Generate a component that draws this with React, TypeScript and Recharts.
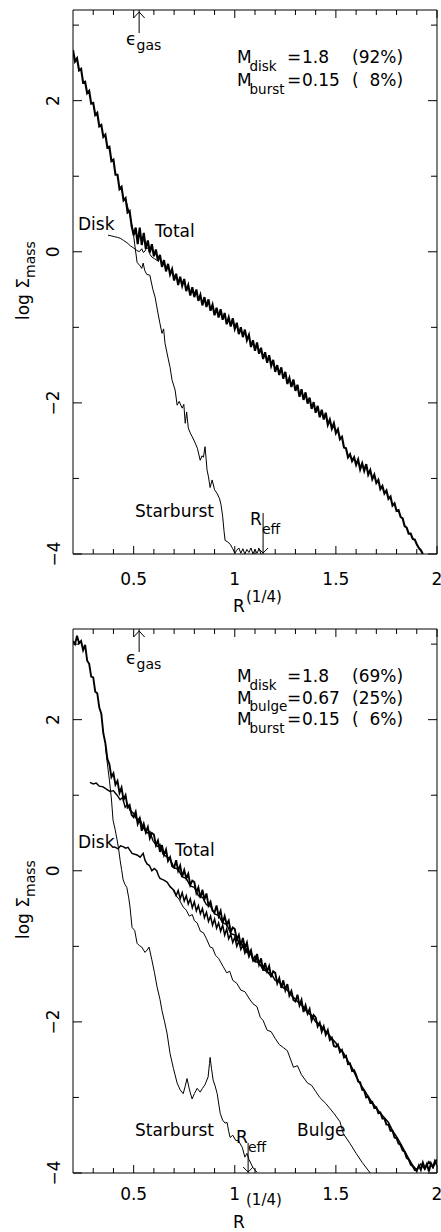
import { Line, LineChart, XAxis, YAxis } from "recharts"

const W = 441
const FONT = "'DejaVu Sans', sans-serif"

const xTicks = [0.3, 0.4, 0.5, 0.6, 0.7, 0.8, 0.9, 1, 1.1, 1.2, 1.3, 1.4, 1.5, 1.6, 1.7, 1.8, 1.9, 2]
const xLabels: Record<string, string> = { "0.5": "0.5", "1": "1", "1.5": "1.5", "2": "2" }
const yTicks = [-4, -3, -2, -1, 0, 1, 2, 3]
const yLabels: Record<string, string> = { "-4": "−4", "-2": "−2", "0": "0", "2": "2" }

// sample grid along R^(1/4)
const steps = (from: number, step: number, n: number) =>
  Array.from({ length: n }, (_, i) => Math.round((from + i * step) * 1000) / 1000)

// ---------- top panel ----------
const totalTopY = [
  2.67, 2.52, 2.56, 2.40, 2.42, 2.24, 2.25, 2.10, 2.13, 1.96,
  1.97, 1.81, 1.84, 1.66, 1.68, 1.52, 1.55, 1.38, 1.39, 1.20,
  1.22, 1.02, 1.02, 0.83, 0.86, 0.68, 0.71, 0.52, 0.54, 0.34,
  0.22, 0.32, 0.10, 0.32, 0.09, 0.25, 0.04, 0.15, -0.01, 0.10,
  -0.06, 0.03, -0.12, -0.04, -0.20, -0.11, -0.26, -0.16, -0.30, -0.23,
  -0.38, -0.29, -0.44, -0.33, -0.45, -0.36, -0.52, -0.44, -0.58, -0.47,
  -0.60, -0.50, -0.65, -0.57, -0.71, -0.60, -0.73, -0.63, -0.78, -0.70,
  -0.84, -0.74, -0.87, -0.76, -0.90, -0.81, -0.96, -0.87, -0.99, -0.88,
  -1.02, -0.94, -1.09, -1.00, -1.13, -1.03, -1.17, -1.10, -1.26, -1.17,
  -1.31, -1.20, -1.35, -1.27, -1.42, -1.33, -1.47, -1.37, -1.51, -1.43,
  -1.59, -1.50, -1.63, -1.53, -1.68, -1.59, -1.75, -1.67, -1.79, -1.69,
  -1.84, -1.76, -1.92, -1.82, -1.96, -1.86, -2.01, -1.93, -2.08, -1.99,
  -2.13, -2.04, -2.19, -2.09, -2.22, -2.13, -2.29, -2.22, -2.34, -2.27,
  -2.40, -2.35, -2.48, -2.45, -2.59, -2.60, -2.72, -2.68, -2.77, -2.72,
  -2.82, -2.75, -2.88, -2.80, -2.90, -2.81, -2.95, -2.89, -3.01, -2.95,
  -3.06, -3.02, -3.14, -3.10, -3.20, -3.16, -3.27, -3.24, -3.36, -3.33,
  -3.43, -3.42, -3.51, -3.53, -3.63, -3.65, -3.73, -3.73, -3.80, -3.81,
  -3.87, -3.92, -3.95, -4.0,
]
const totalTopR = steps(0.2, 0.01, totalTopY.length)

const diskTopR = [0.373, 0.39, 0.405, 0.42, 0.433, 0.45, 0.467, 0.483, 0.5, 0.515, 0.528, 0.54, 0.548, 0.556, 0.565, 0.573, 0.582, 0.59, 0.602, 0.614, 0.625]
const diskTopY = [0.22, 0.21, 0.2, 0.19, 0.18, 0.15, 0.12, 0.08, 0.05, 0.02, 0.0, 0.04, -0.01, 0.01, 0.06, 0.03, -0.04, -0.07, -0.09, -0.11, -0.13]

const burstTopR = [
  0.46, 0.48, 0.497, 0.505, 0.517, 0.53, 0.54, 0.547, 0.555, 0.565, 0.58, 0.595, 0.606, 0.62, 0.63,
  0.64, 0.648, 0.655, 0.668, 0.68, 0.69, 0.705, 0.715, 0.725, 0.74, 0.748, 0.755, 0.762, 0.77, 0.78,
  0.79, 0.804, 0.815, 0.829, 0.838, 0.845, 0.853, 0.863, 0.87, 0.878, 0.888, 0.9, 0.913, 0.925, 0.932,
  0.94, 0.947, 0.952, 0.965, 0.977, 0.99, 1.0, 1.01, 1.02, 1.03, 1.04, 1.05, 1.06, 1.07, 1.08,
  1.09, 1.1, 1.11, 1.12, 1.13,
]
const burstTopY = [
  0.7, 0.5, 0.28, 0.1, -0.14, -0.18, -0.22, -0.15, -0.25, -0.3, -0.31, -0.5, -0.6, -0.81, -0.95,
  -1.08, -1.02, -1.21, -1.38, -1.53, -1.7, -1.83, -2.03, -1.98, -2.07, -2.02, -2.27, -2.12, -2.33, -2.4,
  -2.45, -2.53, -2.6, -2.76, -2.7, -2.72, -2.58, -2.89, -2.98, -3.12, -3.02, -3.15, -3.2, -3.27, -3.35,
  -3.5, -3.7, -3.82, -3.84, -3.87, -3.93, -3.99, -3.95, -3.92, -3.99, -3.93, -4.0, -3.94, -3.98, -3.92,
  -4.0, -3.94, -3.99, -3.93, -4.0,
]

// ---------- bottom panel ----------
const totalBotY = [
  3.04, 3.00, 3.11, 3.01, 3.04, 2.92, 2.99, 2.78, 2.74, 2.57,
  2.56, 2.37, 2.35, 2.16, 2.08, 1.82, 1.69, 1.48, 1.41, 1.24,
  1.29, 1.14, 1.19, 1.03, 1.10, 0.94, 1.00, 0.84, 0.87, 0.74,
  0.71, 0.78, 0.62, 0.69, 0.53, 0.62, 0.51, 0.58, 0.43, 0.50,
  0.48, 0.34, 0.40, 0.25, 0.34, 0.21, 0.28, 0.13, 0.18, 0.06,
  0.04, 0.14, 0.00, 0.07, -0.08, 0.01, -0.10, -0.04, -0.19, -0.13,
  -0.15, -0.29, -0.22, -0.36, -0.25, -0.38, -0.30, -0.46, -0.41, -0.53,
  -0.55, -0.46, -0.60, -0.53, -0.69, -0.60, -0.71, -0.66, -0.81, -0.75,
  -0.77, -0.91, -0.85, -0.99, -0.89, -1.02, -0.95, -1.10, -1.05, -1.18,
  -1.20, -1.10, -1.24, -1.16, -1.32, -1.22, -1.33, -1.26, -1.41, -1.33,
  -1.35, -1.49, -1.42, -1.55, -1.45, -1.58, -1.50, -1.65, -1.59, -1.71,
  -1.73, -1.64, -1.78, -1.71, -1.87, -1.78, -1.89, -1.83, -1.98, -1.91,
  -1.94, -2.06, -2.01, -2.13, -2.06, -2.17, -2.11, -2.24, -2.21, -2.32,
  -2.33, -2.30, -2.40, -2.37, -2.47, -2.45, -2.56, -2.55, -2.65, -2.64,
  -2.70, -2.79, -2.80, -2.90, -2.91, -3.00, -2.99, -3.07, -3.06, -3.14,
  -3.13, -3.21, -3.20, -3.28, -3.28, -3.36, -3.36, -3.44, -3.44, -3.53,
  -3.54, -3.61, -3.63, -3.70, -3.72, -3.80, -3.82, -3.89, -3.91, -3.96,
  -3.97, -3.90, -3.96, -3.86, -3.94, -3.88, -3.98, -3.87, -3.92, -3.84, -3.90,
]
const totalBotR = steps(0.2, 0.01, totalBotY.length)

const innerBotR = [
  0.284, 0.3, 0.315, 0.33, 0.349, 0.365, 0.383, 0.4, 0.418, 0.433, 0.445, 0.458, 0.47, 0.482, 0.5,
  0.517, 0.53, 0.545, 0.566, 0.58, 0.595, 0.616, 0.63, 0.645, 0.665, 0.68,
  ...steps(0.7, 0.02, 25),
]
const innerBotY = [
  1.17, 1.15, 1.16, 1.12, 1.11, 1.08, 1.05, 1.06, 1.0, 0.94, 0.97, 0.84, 0.88, 0.8, 0.76,
  0.67, 0.7, 0.58, 0.5, 0.52, 0.4, 0.32, 0.35, 0.22, 0.18, 0.16,
  0.04, 0.02, -0.08, -0.1, -0.2, -0.22, -0.33, -0.35, -0.45, -0.47, -0.57, -0.59, -0.69, -0.71,
  -0.83, -0.85, -0.95, -0.98, -1.08, -1.1, -1.2, -1.22, -1.31, -1.33, -1.4,
]

const diskBotR = [
  0.4, 0.41, 0.423, 0.435, 0.448, 0.46, 0.472, 0.482, 0.492, 0.505, 0.517, 0.532, 0.547, 0.556,
  0.566, 0.578, 0.59, 0.602, 0.614, 0.622, 0.63, 0.647, 0.665, 0.68,
  ...steps(0.7, 0.01, 41),
  ...steps(1.12, 0.02, 45),
]
const diskBotY = [
  0.32, 0.31, 0.29, 0.33, 0.32, 0.3, 0.31, 0.27, 0.23, 0.22, 0.21, 0.18, 0.23, 0.14,
  0.09, 0.07, 0.0, 0.03, 0.0, -0.06, -0.1, -0.12, -0.15, -0.21,
  -0.26, -0.33, -0.26, -0.37, -0.29, -0.4, -0.33, -0.44, -0.37, -0.49,
  -0.41, -0.53, -0.46, -0.57, -0.5, -0.62, -0.55, -0.67, -0.6, -0.72,
  -0.64, -0.76, -0.69, -0.8, -0.72, -0.85, -0.77, -0.9, -0.84, -0.95,
  -0.88, -1.0, -0.93, -1.04, -0.98, -1.09, -1.03, -1.14, -1.08, -1.19, -1.13,
  -1.24, -1.26, -1.34, -1.36, -1.45, -1.47, -1.55, -1.58, -1.65, -1.7,
  -1.76, -1.8, -1.88, -1.91, -2.0, -2.03, -2.1, -2.15, -2.22, -2.28,
  -2.36, -2.42, -2.52, -2.61, -2.72, -2.82, -2.9, -2.99, -3.07, -3.14,
  -3.21, -3.27, -3.33, -3.44, -3.52, -3.61, -3.71, -3.81, -3.9, -3.96,
  -3.88, -3.95, -3.85, -3.93, -3.82,
]

const bulgeBotR = [
  0.695, 0.71, 0.725, 0.745, 0.76, 0.775, 0.79, 0.8, 0.814, 0.83, 0.845, 0.86, 0.878, 0.89, 0.905,
  0.92, 0.943, 0.96, 0.975, 0.99, 1.01, 1.03, 1.05, 1.076, 1.09, 1.11, 1.126, 1.14, 1.16, 1.18,
  1.2, 1.22, 1.24, 1.26, 1.29, 1.31, 1.33, 1.36, 1.38, 1.4, 1.42, 1.45, 1.49, 1.52, 1.537,
  1.57, 1.6, 1.63, 1.67,
]
const bulgeBotY = [
  -0.26, -0.33, -0.38, -0.48, -0.52, -0.6, -0.58, -0.66, -0.69, -0.8, -0.82, -0.9, -1.01, -1.02, -1.12,
  -1.16, -1.27, -1.35, -1.33, -1.45, -1.49, -1.58, -1.6, -1.71, -1.76, -1.8, -1.94, -1.98, -2.11, -2.13,
  -2.22, -2.3, -2.34, -2.38, -2.6, -2.58, -2.7, -2.81, -2.84, -2.92, -3.0, -3.08, -3.21, -3.32, -3.48,
  -3.61, -3.74, -3.86, -4.0,
]

const burstBotR = [
  0.36, 0.368, 0.38, 0.39, 0.398, 0.408, 0.418, 0.425, 0.433, 0.44, 0.448, 0.457, 0.466, 0.475, 0.482,
  0.492, 0.505, 0.517, 0.528, 0.54, 0.556, 0.566, 0.576, 0.59, 0.603, 0.616, 0.63, 0.64, 0.653, 0.665,
  0.68, 0.697, 0.715, 0.73, 0.745, 0.755, 0.764, 0.776, 0.789, 0.8, 0.814, 0.829, 0.84, 0.853, 0.868,
  0.875, 0.878, 0.885, 0.893, 0.903, 0.913, 0.928, 0.94, 0.952, 0.962, 0.97, 0.977, 0.99, 1.005, 1.017,
  1.037, 1.05, 1.06, 1.07, 1.09, 1.11,
]
const burstBotY = [
  1.66, 1.46, 1.2, 0.95, 0.67, 0.55, 0.41, 0.3, 0.14, 0.02, -0.12, -0.18, -0.22, -0.35, -0.48,
  -0.75, -0.79, -0.96, -0.99, -1.01, -1.08, -1.05, -1.01, -1.18, -1.35, -1.54, -1.7, -1.85, -2.0, -2.15,
  -2.42, -2.62, -2.81, -2.9, -2.95, -2.85, -2.75, -2.9, -3.02, -2.95, -2.88, -2.93, -2.88, -2.83, -2.73,
  -2.55, -2.47, -2.62, -2.77, -2.85, -2.95, -3.21, -3.3, -3.34, -3.33, -3.45, -3.53, -3.5, -3.57, -3.57,
  -3.66, -3.79, -3.74, -3.82, -3.93, -3.99,
]

const pts = (rs: number[], vs: number[]) => rs.map((r, i) => ({ r, v: vs[i] }))

type Series = { key: string; data: { r: number; v: number }[]; width: number }

const topSeries: Series[] = [
  { key: "burst", data: pts(burstTopR, burstTopY), width: 1 },
  { key: "disk", data: pts(diskTopR, diskTopY), width: 1 },
  { key: "total", data: pts(totalTopR, totalTopY), width: 2.1 },
]
const botSeries: Series[] = [
  { key: "burst", data: pts(burstBotR, burstBotY), width: 1 },
  { key: "bulge", data: pts(bulgeBotR, bulgeBotY), width: 1 },
  { key: "disk", data: pts(diskBotR, diskBotY), width: 1.5 },
  { key: "inner", data: pts(innerBotR, innerBotY), width: 1.4 },
  { key: "total", data: pts(totalBotR, totalBotY), width: 1.9 },
]

// plot box inside each panel
const PL = 73, PR = 437, PT = 10, PB = 554
const sx = (r: number) => PL + ((r - 0.2) / 1.8) * (PR - PL)

const isMajorX = (v: number) => xLabels[String(v)] !== undefined
const isMajorY = (v: number) => yLabels[String(v)] !== undefined

const BottomTick = ({ x, payload, labelDy }: any) => {
  const major = isMajorX(payload.value)
  return (
    <g>
      <line x1={x} x2={x} y1={PB} y2={PB - (major ? 8 : 5)} stroke="#000" />
      {major && (
        <text x={x} y={PB + labelDy} textAnchor="middle" fontSize={17} fontFamily={FONT} fill="#000">
          {xLabels[String(payload.value)]}
        </text>
      )}
    </g>
  )
}
const TopTick = ({ x, payload }: any) => {
  const major = isMajorX(payload.value)
  return <line x1={x} x2={x} y1={PT} y2={PT + (major ? 8 : 5)} stroke="#000" />
}
const LeftTick = ({ y, payload }: any) => {
  const major = isMajorY(payload.value)
  const lx = PL - 13.5
  return (
    <g>
      <line x1={PL} x2={PL + (major ? 9 : 6)} y1={y} y2={y} stroke="#000" />
      {major && (
        <text x={lx} y={y} transform={`rotate(-90, ${lx}, ${y})`} textAnchor="middle"
          fontSize={17} fontFamily={FONT} fill="#000">
          {yLabels[String(payload.value)]}
        </text>
      )}
    </g>
  )
}
const RightTick = ({ y, payload }: any) => {
  const major = isMajorY(payload.value)
  return <line x1={PR} x2={PR - (major ? 9 : 6)} y1={y} y2={y} stroke="#000" />
}

const T = (props: any) => <text fontFamily={FONT} fontSize={17} fill="#000" {...props} />

function Titles({ rY, supY }: { rY: number; supY: number }) {
  return (
    <g>
      <T x={233} y={rY}>R</T>
      <T x={246} y={supY} fontSize={15}>(1/4)</T>
      <g transform="rotate(-90)">
        <T x={-320} y={28.5}>
          log Σ<tspan dy={6} fontSize={14}>mass</tspan>
        </T>
      </g>
    </g>
  )
}

function GasArrow() {
  const x = sx(0.527)
  return (
    <g>
      <line x1={x} x2={x} y1={PT} y2={PT + 23} stroke="#000" />
      <polyline points={`${x - 5.5},${PT + 8} ${x},${PT + 2} ${x + 5.5},${PT + 8}`} fill="none" stroke="#000" />
      <T x={126} y={45}>ϵ</T>
      <T x={136.5} y={50} fontSize={14}>gas</T>
    </g>
  )
}

function EffArrow({ r, len, lx, ly }: { r: number; len: number; lx: number; ly: number }) {
  const x = sx(r)
  return (
    <g>
      <line x1={x} x2={x} y1={PB - len} y2={PB} stroke="#000" />
      <polyline points={`${x - 5},${PB - 6} ${x},${PB - 1} ${x + 5},${PB - 6}`} fill="none" stroke="#000" />
      <T x={lx} y={ly}>R</T>
      <T x={lx + 12} y={ly + 9} fontSize={14}>eff</T>
    </g>
  )
}

function MassLine({ y, sub, value, pct }: { y: number; sub: string; value: string; pct: string }) {
  return (
    <g>
      <T x={237} y={y}>M</T>
      <T x={249.5} y={y + 7.5} fontSize={13.5}>{sub}</T>
      <T x={287} y={y}>=</T>
      <T x={302} y={y}>{value}</T>
      <T x={352} y={y} style={{ whiteSpace: "pre" }}>{pct}</T>
    </g>
  )
}

type PanelProps = {
  top: number; height: number; series: Series[]; labelDy: number; rY: number; supY: number; children: any
}

function Panel({ top, height, series, labelDy, rY, supY, children }: PanelProps) {
  return (
    <div style={{ position: "absolute", left: 0, top, width: W, height }}>
      <LineChart width={W} height={height} margin={{ top: PT - 1, right: W - PR - 1, bottom: height - PB - 1, left: PL - 1 }}>
        <XAxis xAxisId="b" type="number" dataKey="r" domain={[0.2, 2]} allowDataOverflow ticks={xTicks} interval={0}
          tickSize={0} tickMargin={0} tickLine={false} tick={(p: any) => <BottomTick {...p} labelDy={labelDy} />}
          axisLine={{ stroke: "#000" }} height={1} />
        <XAxis xAxisId="t" orientation="top" type="number" dataKey="r" domain={[0.2, 2]} allowDataOverflow ticks={xTicks} interval={0}
          tickSize={0} tickMargin={0} tickLine={false} tick={(p: any) => <TopTick {...p} />} axisLine={{ stroke: "#000" }} height={1} />
        <YAxis yAxisId="l" type="number" domain={[-4, 3.2]} allowDataOverflow ticks={yTicks} interval={0}
          tickSize={0} tickMargin={0} tickLine={false} tick={(p: any) => <LeftTick {...p} />} axisLine={{ stroke: "#000" }} width={1} />
        <YAxis yAxisId="r" orientation="right" type="number" domain={[-4, 3.2]} allowDataOverflow ticks={yTicks} interval={0}
          tickSize={0} tickMargin={0} tickLine={false} tick={(p: any) => <RightTick {...p} />} axisLine={{ stroke: "#000" }} width={1} />
        {series.map((s) => (
          <Line key={s.key} xAxisId="b" yAxisId="l" data={s.data} dataKey="v" type="linear" stroke="#000"
            strokeWidth={s.width} dot={false} activeDot={false} isAnimationActive={false} />
        ))}
      </LineChart>
      <svg width={W} height={height} style={{ position: "absolute", left: 0, top: 0, pointerEvents: "none" }}>
        <Titles rY={rY} supY={supY} />
        <GasArrow />
        {children}
      </svg>
    </div>
  )
}

export default function App() {
  return (
    <div style={{ position: "absolute", left: 0, top: 0, width: W, height: 1232, background: "#fff" }}>
      <Panel top={0} height={619} series={topSeries} labelDy={31} rY={612} supY={602}>
        <MassLine y={63} sub="disk" value="1.8" pct="(92%)" />
        <MassLine y={86} sub="burst" value="0.15" pct="(  8%)" />
        <T x={78} y={230}>Disk</T>
        <T x={155} y={237}>Total</T>
        <T x={135} y={517}>Starburst</T>
        <EffArrow r={1.14} len={41} lx={250} ly={525} />
      </Panel>
      <Panel top={619} height={613} series={botSeries} labelDy={27} rY={609} supY={586}>
        <MassLine y={63} sub="disk" value="1.8" pct="(69%)" />
        <MassLine y={84.5} sub="bulge" value="0.67" pct="(25%)" />
        <MassLine y={106} sub="burst" value="0.15" pct="(  6%)" />
        <T x={78} y={229}>Disk</T>
        <T x={175} y={237}>Total</T>
        <T x={135} y={517}>Starburst</T>
        <T x={297} y={517}>Bulge</T>
        <EffArrow r={1.066} len={30} lx={236} ly={524} />
      </Panel>
    </div>
  )
}
